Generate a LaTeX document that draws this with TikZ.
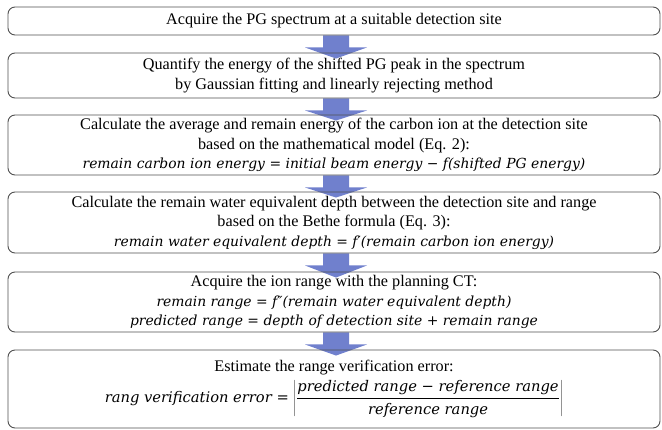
\documentclass[tikz,border=0pt]{standalone}
\usepackage{fontspec}
\setmainfont{Liberation Serif}
\newfontfamily\eqf{DejaVu Serif}
\usetikzlibrary{backgrounds,calc}
\definecolor{arrowblue}{RGB}{112,128,205}
\definecolor{boxgray}{RGB}{80,80,80}
\newcommand\eqtxt[1]{{\eqf\itshape\fontsize{13.9}{19.5}\selectfont #1}}
\newcommand\eqbig[1]{{\eqf\itshape\fontsize{14.7}{19.5}\selectfont #1}}
\newcommand\flowarr[2]{%
  \fill[arrowblue] let \p1=(#1.south), \p2=(#2.north) in
    (\x1-11,\y1) -- (\x1+15,\y1) -- (\x1+15,\y1-12) -- (\x1+33,\y1-12)
    -- (\x1+2,\y2-6) -- (\x1-29,\y1-12) -- (\x1-11,\y1-12) -- cycle;}
\begin{document}
\begin{tikzpicture}[x=1pt,y=1pt,
  stepbox/.style={draw=boxgray, line width=0.9pt, rounded corners=7pt,
    minimum width=652pt, align=center, inner sep=0pt,
    font=\fontsize{16.2}{19.5}\selectfont}]
\useasboundingbox (0,0) rectangle (662,-429);
\node[stepbox, minimum height=28pt] (b1) at (334,-21)
  {Acquire the PG spectrum at a suitable detection site};
\node[stepbox, minimum height=45pt] (b2) at (334,-75.5)
  {Quantify the energy of the shifted PG peak in the spectrum\\
   by Gaussian fitting and linearly rejecting method};
\node[stepbox, minimum height=60pt] (b3) at (334,-145)
  {Calculate the average and remain energy of the carbon ion at the detection site\\
   based on the mathematical model (Eq. 2):\\
   \eqtxt{remain carbon ion energy = initial beam energy − f(shifted PG energy)}};
\node[stepbox, minimum height=61pt] (b4) at (334,-222.5)
  {Calculate the remain water equivalent depth between the detection site and range\\
   based on the Bethe formula (Eq. 3):\\
   \eqtxt{remain water equivalent depth = f′(remain carbon ion energy)}};
\node[stepbox, minimum height=60pt] (b5) at (334,-302)
  {Acquire the ion range with the planning CT:\\
   \eqtxt{remain range = f″(remain water equivalent depth)}\\
   \eqtxt{predicted range = depth of detection site + remain range}};
\node[stepbox, minimum height=78pt] (b6) at (334,-389)
  {Estimate the range verification error:\\[4pt]
   \eqbig{rang verification error =}
   $\displaystyle\left|\frac{\mbox{\eqbig{predicted range − reference range}}}{\mbox{\eqbig{reference range}}}\right|$};
\begin{scope}[on background layer]
\flowarr{b1}{b2}
\flowarr{b2}{b3}
\flowarr{b3}{b4}
\flowarr{b4}{b5}
\flowarr{b5}{b6}
\end{scope}
\end{tikzpicture}
\end{document}
